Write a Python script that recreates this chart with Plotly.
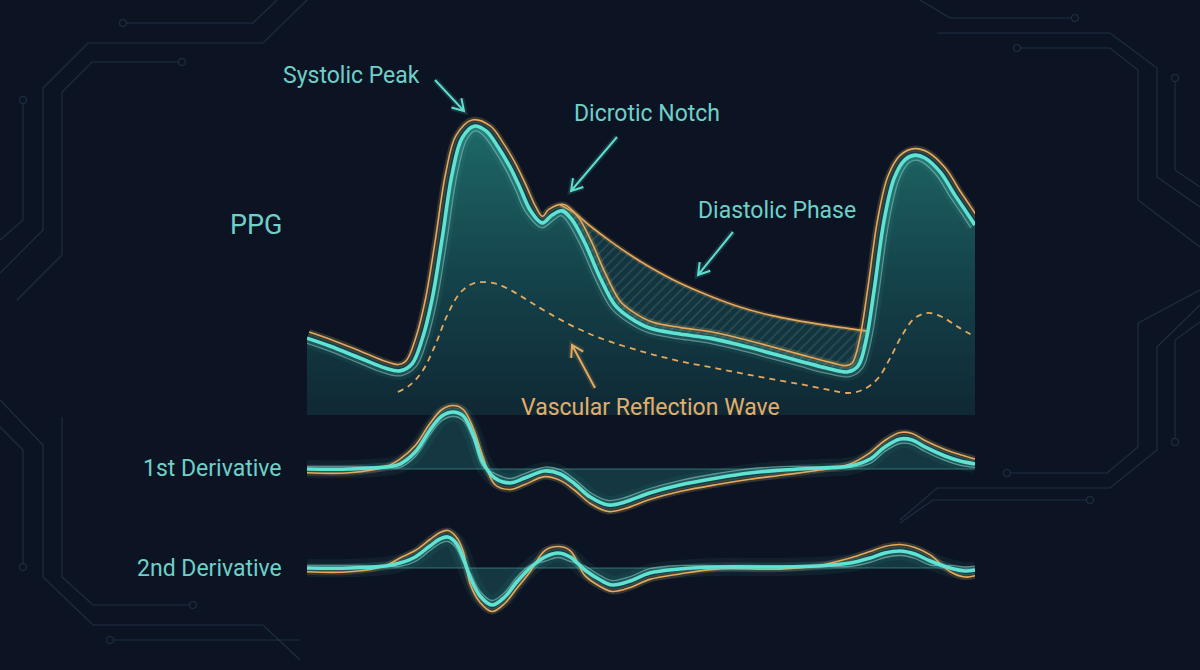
import numpy as np
import plotly.graph_objects as go

# ---------------- DATA ----------------
# PPG waveform (time fraction of window, normalised amplitude)
ppg_t = [0.000, 0.034, 0.079, 0.117, 0.139, 0.157, 0.172, 0.187, 0.202, 0.217, 0.232, 0.250,
         0.268, 0.286, 0.304, 0.319, 0.334, 0.352, 0.367, 0.382, 0.397, 0.416, 0.439, 0.461,
         0.484, 0.513, 0.558, 0.603, 0.648, 0.693, 0.738, 0.783, 0.810, 0.825, 0.837, 0.849,
         0.864, 0.879, 0.895, 0.910, 0.925, 0.948, 0.970, 0.985, 1.000]
ppg_v = [0.244, 0.219, 0.181, 0.149, 0.140, 0.162, 0.238, 0.365, 0.556, 0.762, 0.879, 0.917,
         0.902, 0.851, 0.787, 0.721, 0.651, 0.610, 0.635, 0.648, 0.619, 0.546, 0.435, 0.349,
         0.308, 0.276, 0.257, 0.244, 0.222, 0.197, 0.171, 0.146, 0.137, 0.156, 0.238, 0.397,
         0.619, 0.752, 0.810, 0.825, 0.816, 0.771, 0.698, 0.651, 0.603]

# Diastolic phase envelope (upper bound of hatched region)
dia_t = [0.379, 0.401, 0.424, 0.454, 0.484, 0.513, 0.558, 0.603, 0.648, 0.693, 0.738, 0.783, 0.837]
dia_v = [0.667, 0.641, 0.600, 0.552, 0.508, 0.470, 0.419, 0.378, 0.343, 0.317, 0.298, 0.283, 0.267]

# Vascular reflection wave (dashed)
ref_t = [0.136, 0.154, 0.172, 0.192, 0.210, 0.229, 0.247, 0.265, 0.284, 0.307, 0.334, 0.364,
         0.401, 0.439, 0.499, 0.558, 0.618, 0.678, 0.738, 0.783, 0.813, 0.835, 0.855, 0.873,
         0.891, 0.910, 0.930, 0.951, 0.975, 1.000]
ref_v = [0.073, 0.095, 0.137, 0.222, 0.317, 0.387, 0.416, 0.422, 0.416, 0.394, 0.359, 0.321,
         0.279, 0.244, 0.203, 0.171, 0.146, 0.121, 0.098, 0.079, 0.070, 0.083, 0.117, 0.181,
         0.254, 0.308, 0.324, 0.311, 0.279, 0.248]

# 1st derivative
d1_t = [0.000, 0.064, 0.117, 0.139, 0.162, 0.184, 0.202, 0.219, 0.234, 0.249, 0.263, 0.281,
        0.304, 0.326, 0.356, 0.379, 0.401, 0.424, 0.451, 0.476, 0.513, 0.558, 0.614, 0.663,
        0.713, 0.768, 0.813, 0.843, 0.865, 0.888, 0.906, 0.925, 0.955, 0.978, 1.000]
d1_v = [0.000, 0.000, 0.033, 0.083, 0.283, 0.650, 0.883, 0.950, 0.883, 0.567, 0.117, -0.150,
        -0.233, -0.150, -0.033, -0.083, -0.250, -0.467, -0.600, -0.550, -0.400, -0.267, -0.150,
        -0.067, -0.017, 0.017, 0.050, 0.167, 0.367, 0.500, 0.483, 0.367, 0.217, 0.133, 0.083]

# 2nd derivative
d2_t = [0.000, 0.064, 0.117, 0.139, 0.162, 0.184, 0.199, 0.211, 0.223, 0.234, 0.244, 0.259,
        0.277, 0.296, 0.314, 0.334, 0.356, 0.376, 0.394, 0.416, 0.439, 0.457, 0.484, 0.513,
        0.558, 0.614, 0.708, 0.763, 0.813, 0.843, 0.865, 0.888, 0.910, 0.933, 0.963, 0.985, 1.000]
d2_v = [0.000, 0.000, 0.050, 0.125, 0.275, 0.550, 0.725, 0.775, 0.625, 0.250, -0.225, -0.700,
        -0.925, -0.725, -0.350, 0.000, 0.275, 0.375, 0.275, -0.050, -0.300, -0.425, -0.325,
        -0.125, -0.025, 0.025, 0.025, 0.050, 0.125, 0.250, 0.375, 0.425, 0.350, 0.175, 0.000,
        -0.075, -0.050]

panel_labels = ["PPG", "1st Derivative", "2nd Derivative"]
callouts = ["Systolic Peak", "Dicrotic Notch", "Diastolic Phase"]
reflection_label = "Vascular Reflection Wave"

# ---------------- STYLE ----------------
W, H = 1200, 670
X0, X1 = 307, 975
BG = "#0C1424"
CYAN = "#5FE3D3"
ORANGE = "#E6A95C"
THIN = "rgba(150,205,195,0.55)"
LABEL = "#6FD0C8"
FONT = "Roboto"

def px(x):
    return x / W

def py(y):
    return 1 - y / H

SX = X1 - X0  # pixels per unit of time fraction
PPG_SY = 315.0
D1_SY = 60.0
D2_SY = 40.0

def offset_normal(t, v, sy, d):
    t = np.asarray(t, float)
    v = np.asarray(v, float)
    X = t * SX
    Y = v * sy
    slope = np.gradient(Y, X)
    n = np.sqrt(1 + slope ** 2)
    return (X - d * slope / n) / SX, (Y + d / n) / sy

def offset_vertical(t, v, sy, d):
    v = np.asarray(v, float)
    return list(t), v + np.asarray(d, float) / sy

fig = go.Figure()

def line(x, y, yaxis, color, width, dash=None, shape="spline"):
    fig.add_trace(go.Scatter(x=x, y=y, yaxis=yaxis, mode="lines",
                             line=dict(color=color, width=width, shape=shape, dash=dash),
                             hoverinfo="skip", showlegend=False))

def glow_wave(t, v, yaxis, o_xy, i_xy):
    ot, ov = o_xy
    it, iv = i_xy
    line(t, v, yaxis, "rgba(90,230,210,0.06)", 18)
    line(ot, ov, yaxis, "rgba(230,160,80,0.18)", 6)
    line(t, v, yaxis, "rgba(90,230,210,0.14)", 9)
    line(it, iv, yaxis, THIN, 1.3)
    line(ot, ov, yaxis, ORANGE, 1.6)
    line(t, v, yaxis, CYAN, 3.6)

# ----- PPG panel -----
fig.add_trace(go.Scatter(x=ppg_t, y=ppg_v, yaxis="y", mode="lines", fill="tozeroy",
                         line=dict(width=0, shape="spline", color="rgba(0,0,0,0)"),
                         fillgradient=dict(type="vertical", start=0, stop=0.92,
                                           colorscale=[[0, "rgba(15,40,52,1)"],
                                                       [0.5, "rgba(21,68,76,1)"],
                                                       [1, "rgba(30,104,104,1)"]]),
                         hoverinfo="skip", showlegend=False))

# hatched diastolic region: lower bound = PPG segment under the envelope
lo_t = [t for t in ppg_t if dia_t[0] <= t <= dia_t[-1]]
lo_v = [v for t, v in zip(ppg_t, ppg_v) if dia_t[0] <= t <= dia_t[-1]]
fig.add_trace(go.Scatter(x=lo_t, y=lo_v, yaxis="y", mode="lines",
                         line=dict(width=0, shape="spline"), hoverinfo="skip", showlegend=False))
fig.add_trace(go.Scatter(x=dia_t, y=dia_v, yaxis="y", mode="lines", fill="tonexty",
                         line=dict(width=0, shape="spline"),
                         fillcolor="rgba(40,110,110,0.35)",
                         fillpattern=dict(shape="/", fgcolor="rgba(120,190,185,0.45)",
                                          bgcolor="rgba(28,80,86,0.55)", size=7, solidity=0.18),
                         hoverinfo="skip", showlegend=False))
line(dia_t, dia_v, "y", "rgba(230,160,80,0.2)", 5)
line(dia_t, dia_v, "y", ORANGE, 1.6)

# reflection wave
line(ref_t, ref_v, "y", ORANGE, 1.8, dash="6px,5px")

glow_wave(ppg_t, ppg_v, "y",
          offset_normal(ppg_t, ppg_v, PPG_SY, 6.5),
          offset_normal(ppg_t, ppg_v, PPG_SY, -5.0))

# ----- derivative panels -----
def deriv_panel(t, v, yaxis, sy):
    fig.add_trace(go.Scatter(x=[0, 1], y=[0, 0], yaxis=yaxis, mode="lines",
                             line=dict(color="rgba(80,180,170,0.55)", width=1),
                             hoverinfo="skip", showlegend=False))
    fig.add_trace(go.Scatter(x=t, y=v, yaxis=yaxis, mode="lines", fill="tonexty",
                             line=dict(width=0, shape="spline"),
                             fillcolor="rgba(40,140,132,0.30)",
                             hoverinfo="skip", showlegend=False))
    sign = np.tanh((np.asarray(v) * sy - 2.0) / 3.0)
    glow_wave(t, v, yaxis,
              offset_vertical(t, v, sy, 6.5 * sign),
              offset_vertical(t, v, sy, -4.5 * sign))

deriv_panel(d1_t, d1_v, "y2", D1_SY)
deriv_panel(d2_t, d2_v, "y3", D2_SY)

# ---------------- AXES ----------------
hidden = dict(visible=False, showgrid=False, zeroline=False, fixedrange=True)
fig.update_layout(
    width=W, height=H,
    margin=dict(l=0, r=0, t=0, b=0),
    paper_bgcolor=BG, plot_bgcolor="rgba(0,0,0,0)",
    showlegend=False,
    xaxis=dict(domain=[px(X0), px(X1)], range=[0, 1], **hidden),
    yaxis=dict(domain=[py(415), py(100)], range=[0, 1], **hidden),
    yaxis2=dict(domain=[py(515), py(400)], range=[-(515 - 469) / D1_SY, (469 - 400) / D1_SY],
                anchor="x", **hidden),
    yaxis3=dict(domain=[py(615), py(520)], range=[-(615 - 568) / D2_SY, (568 - 520) / D2_SY],
                anchor="x", **hidden),
)

# ---------------- TEXT ----------------
ann = []
def text(s, x, y, size, color, xanchor="left"):
    ann.append(dict(text=s, x=px(x), y=py(y), xref="paper", yref="paper", showarrow=False,
                    xanchor=xanchor, yanchor="middle",
                    font=dict(family=FONT, size=size, color=color)))

text(panel_labels[0], 284, 225, 27, LABEL, "right")
text(panel_labels[1], 284, 469, 23, LABEL, "right")
text(panel_labels[2], 284, 568, 23, LABEL, "right")
text(callouts[0], 281, 75, 23, LABEL)
text(callouts[1], 572, 113, 23, LABEL)
text(callouts[2], 696, 211, 23, LABEL)
text(reflection_label, 519, 407, 23, "#E2AE6A")
fig.update_layout(annotations=ann)

# ---------------- DECORATION (arrows + circuit traces) ----------------
shapes = []

def pth(points):
    return "M " + " L ".join(f"{px(x):.5f},{py(y):.5f}" for x, y in points)

def arrow(x0, y0, x1, y1, color):
    ang = np.arctan2(y1 - y0, x1 - x0)
    L, a = 13, 0.55
    p1 = (x1 - L * np.cos(ang - a), y1 - L * np.sin(ang - a))
    p2 = (x1 - L * np.cos(ang + a), y1 - L * np.sin(ang + a))
    for w, c in ((6, color.replace("1)", "0.15)")), (2, color)):
        shapes.append(dict(type="path", xref="paper", yref="paper",
                           path=pth([(x0, y0), (x1, y1)]) + " " + pth([p1, (x1, y1), p2]),
                           line=dict(color=c, width=w)))

arrow(435, 80, 464, 111, "rgba(95,220,205,1)")
arrow(617, 137, 571, 191, "rgba(95,220,205,1)")
arrow(733, 232, 698, 275, "rgba(95,220,205,1)")
arrow(595, 388, 572, 345, "rgba(230,170,95,1)")

CIRC = "rgba(55,85,105,0.42)"
circuits = [
    [(123, 23), (253, 23), (277, 0)],
    [(0, 273), (43, 230), (43, 88), (88, 43), (263, 43), (307, 0)],
    [(182, 62), (92, 62), (62, 92), (62, 255), (17, 300)],
    [(23, 100), (23, 220), (0, 240)],
    [(0, 427), (23, 450), (23, 567)],
    [(0, 400), (43, 445), (43, 577), (93, 625), (263, 625), (300, 660)],
    [(62, 417), (62, 577), (93, 605), (193, 605)],
    [(110, 640), (300, 640)],
    [(1075, 18), (950, 18), (920, 0)],
    [(937, 33), (1110, 33), (1157, 68), (1157, 177), (1200, 207)],
    [(1017, 48), (1110, 48), (1138, 70), (1138, 200), (1200, 247)],
    [(1175, 78), (1175, 170), (1200, 187)],
    [(1175, 442), (1175, 340), (1200, 322)],
    [(1200, 290), (1138, 323), (1138, 447), (1107, 473), (1007, 473)],
    [(1200, 305), (1157, 347), (1157, 450), (1110, 488), (937, 488), (900, 520)],
    [(1090, 500), (933, 500), (900, 523)],
]
for c in circuits:
    shapes.append(dict(type="path", xref="paper", yref="paper", path=pth(c),
                       line=dict(color=CIRC, width=1.1), layer="below"))
dots = [(123, 23), (182, 62), (23, 100), (23, 567), (193, 605), (110, 640),
        (1075, 18), (1017, 48), (1175, 78), (1175, 442), (1007, 473), (1090, 500)]
for x, y in dots:
    r = 3.5
    shapes.append(dict(type="circle", xref="paper", yref="paper",
                       x0=px(x - r), x1=px(x + r), y0=py(y + r), y1=py(y - r),
                       line=dict(color=CIRC, width=1.1), fillcolor=BG, layer="below"))

fig.update_layout(shapes=shapes)
fig.write_html("out.html",
               config={"displayModeBar": False},
               post_script="document.body.style.margin='0';"
                           "document.body.style.background='%s';" % BG)
